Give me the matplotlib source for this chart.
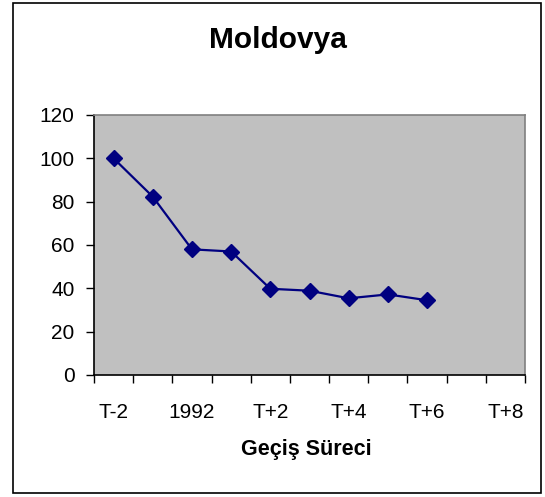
import matplotlib.pyplot as plt
from matplotlib.patches import Rectangle
from matplotlib.ticker import FixedLocator, NullFormatter

plt.rcParams['font.family'] = ['Liberation Sans', 'DejaVu Sans']

CATEGORIES = ['T-2', 'T-1', '1992', 'T+1', 'T+2', 'T+3',
              'T+4', 'T+5', 'T+6', 'T+7', 'T+8']
VALUES = [100, 82.3, 58, 57, 39.8, 38.9, 35.4, 37.2, 34.5]
Y_TICKS = [0, 20, 40, 60, 80, 100, 120]

W, H = 545, 497
fig = plt.figure(figsize=(W / 100, H / 100), dpi=100)

# chart border like the Excel chart area
fig.patches.append(Rectangle((13 / W, 1 - 493 / H), (541 - 13) / W, (493 - 3) / H,
                             transform=fig.transFigure, fill=False,
                             edgecolor='black', linewidth=1.2))

ax = fig.add_axes([94 / W, 1 - 375 / H, (525 - 94) / W, (375 - 115) / H])
ax.set_facecolor('#C0C0C0')

x = list(range(len(VALUES)))
ax.plot(x, VALUES, color='#000080', linewidth=1.6, marker='D',
        markersize=8.5, markerfacecolor='#000080', markeredgecolor='#000080')

ax.set_xlim(-0.5, len(CATEGORIES) - 0.5)
ax.set_ylim(0, 120)
ax.set_yticks(Y_TICKS)
ax.tick_params(axis='y', direction='out', length=6, width=1, pad=8, labelsize=15)

# boundary ticks with no labels, labels on every other category
ax.xaxis.set_major_locator(FixedLocator([i - 0.5 for i in range(len(CATEGORIES) + 1)]))
ax.xaxis.set_major_formatter(NullFormatter())
label_pos = list(range(0, len(CATEGORIES), 2))
ax.set_xticks(label_pos, minor=True)
ax.set_xticklabels([CATEGORIES[i] for i in label_pos], minor=True)
ax.tick_params(axis='x', which='major', direction='out', length=6, width=1)
ax.tick_params(axis='x', which='minor', length=0, pad=20, labelsize=15)

ax.spines['left'].set_color('black')
ax.spines['bottom'].set_color('black')
ax.spines['top'].set_color('#808080')
ax.spines['right'].set_color('#808080')
for s in ax.spines.values():
    s.set_linewidth(1.2)

fig.text(278 / W, 1 - 40 / H, 'Moldovya', ha='center', va='center',
         fontsize=21.5, fontweight='bold')
fig.text(306 / W, 1 - 450 / H, 'Geçiş Süreci', ha='center', va='center',
         fontsize=15.5, fontweight='bold')

fig.savefig('out.png', dpi=100)
